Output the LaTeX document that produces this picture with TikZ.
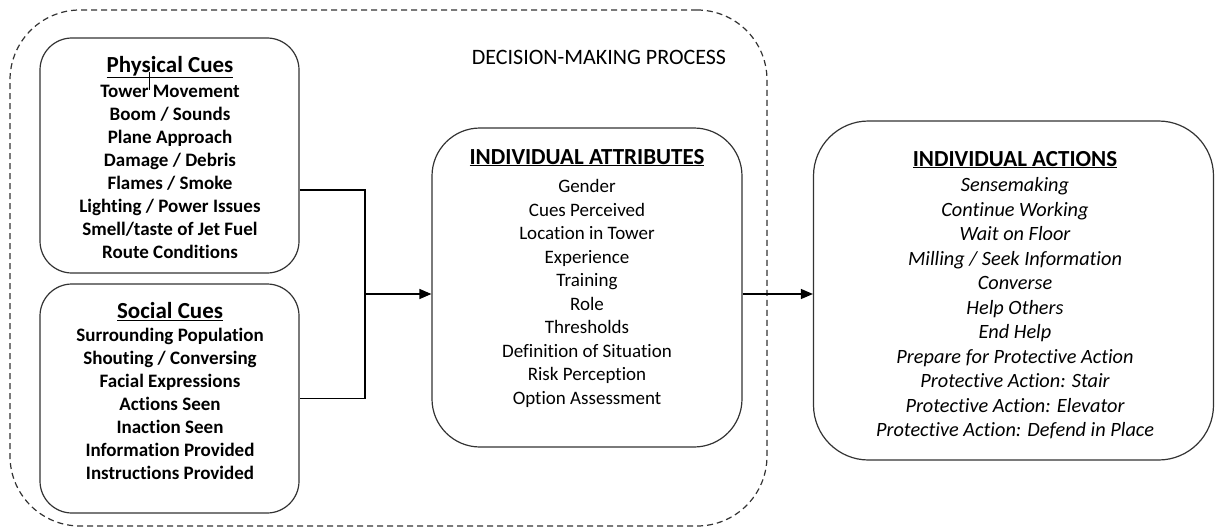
\documentclass[tikz,border=0pt]{standalone}
\usepackage{fontspec}
\setmainfont{Carlito}[Ligatures=NoCommon]
\usetikzlibrary{arrows.meta}
\newcommand{\boxtitle}[1]{{\fontsize{23}{26}\selectfont\bfseries\upshape\underline{#1}}}
\begin{document}
\begin{tikzpicture}[x=1pt,y=-1pt,
  cuebox/.style={draw=black!80, line width=1.2pt, rounded corners=32pt, minimum width=259pt},
  bigbox/.style={draw=black!80, line width=1.2pt, rounded corners=52pt},
  cuetext/.style={align=center, inner sep=0pt, font=\fontsize{19}{23}\selectfont\bfseries},
  listtext/.style={align=center, inner sep=0pt, font=\fontsize{19}{23.5}\selectfont},
  link/.style={line width=1.2pt},
  arrowlink/.style={line width=1.2pt, -{Triangle[length=12pt,width=10pt]}}
]
\useasboundingbox (0,0) rectangle (1215,527);
\node (process) [draw=black!80, line width=1.2pt, dash pattern=on 6pt off 4pt, rounded corners=70pt,
  minimum width=757pt, minimum height=516pt, inner sep=0pt] at (388.5,268) {};
\node (processlabel) [font=\fontsize{22}{26}\selectfont] at (599,57) {DECISION-MAKING PROCESS};
\node (phys) [cuebox, minimum height=235pt] at (169.5,155.5) {};
\node (soc) [cuebox, minimum height=229pt] at (169.5,398.5) {};
\node (attr) [bigbox, minimum width=310pt, minimum height=319pt, rounded corners=48pt] at (587,287.5) {};
\node (act) [bigbox, minimum width=400pt, minimum height=339pt, rounded corners=55pt] at (1013.5,290.5) {};
\node (phystext) [cuetext] at (170,157) {\boxtitle{Physical Cues}\\[2pt]
  Tower Movement\\ Boom / Sounds\\ Plane Approach\\ Damage / Debris\\ Flames / Smoke\\
  Lighting / Power Issues\\ Smell/taste of Jet Fuel\\ Route Conditions};
\node (soctext) [cuetext] at (170,391) {\boxtitle{Social Cues}\\[0pt]
  Surrounding Population\\ Shouting / Conversing\\ Facial Expressions\\ Actions Seen\\
  Inaction Seen\\ Information Provided\\ Instructions Provided};
\node (attrtext) [listtext] at (587,278) {\boxtitle{INDIVIDUAL ATTRIBUTES}\\[5pt]
  Gender\\ Cues Perceived\\ Location in Tower\\ Experience\\ Training\\ Role\\ Thresholds\\
  Definition of Situation\\ Risk Perception\\ Option Assessment};
\node (acttext) [listtext, font=\fontsize{20.3}{24.5}\selectfont\itshape] at (1015,295) {\boxtitle{INDIVIDUAL ACTIONS}\\[1pt]
  Sensemaking\\ Continue Working\\ Wait on Floor\\ Milling / Seek Information\\ Converse\\
  Help Others\\ End Help\\ Prepare for Protective Action\\ Protective Action: Stair\\
  Protective Action: Elevator\\ Protective Action: Defend in Place};
\draw [line width=1pt] (149,72) -- (149,90);
\coordinate (join) at (365,294);
\draw [link] ([yshift=-34.5pt]phys.east) -| (join) |- (soc.east);
\draw [arrowlink] (join) -- (join -| attr.west);
\draw [arrowlink] (attr.east |- join) -- (act.west |- join);
\end{tikzpicture}
\end{document}
